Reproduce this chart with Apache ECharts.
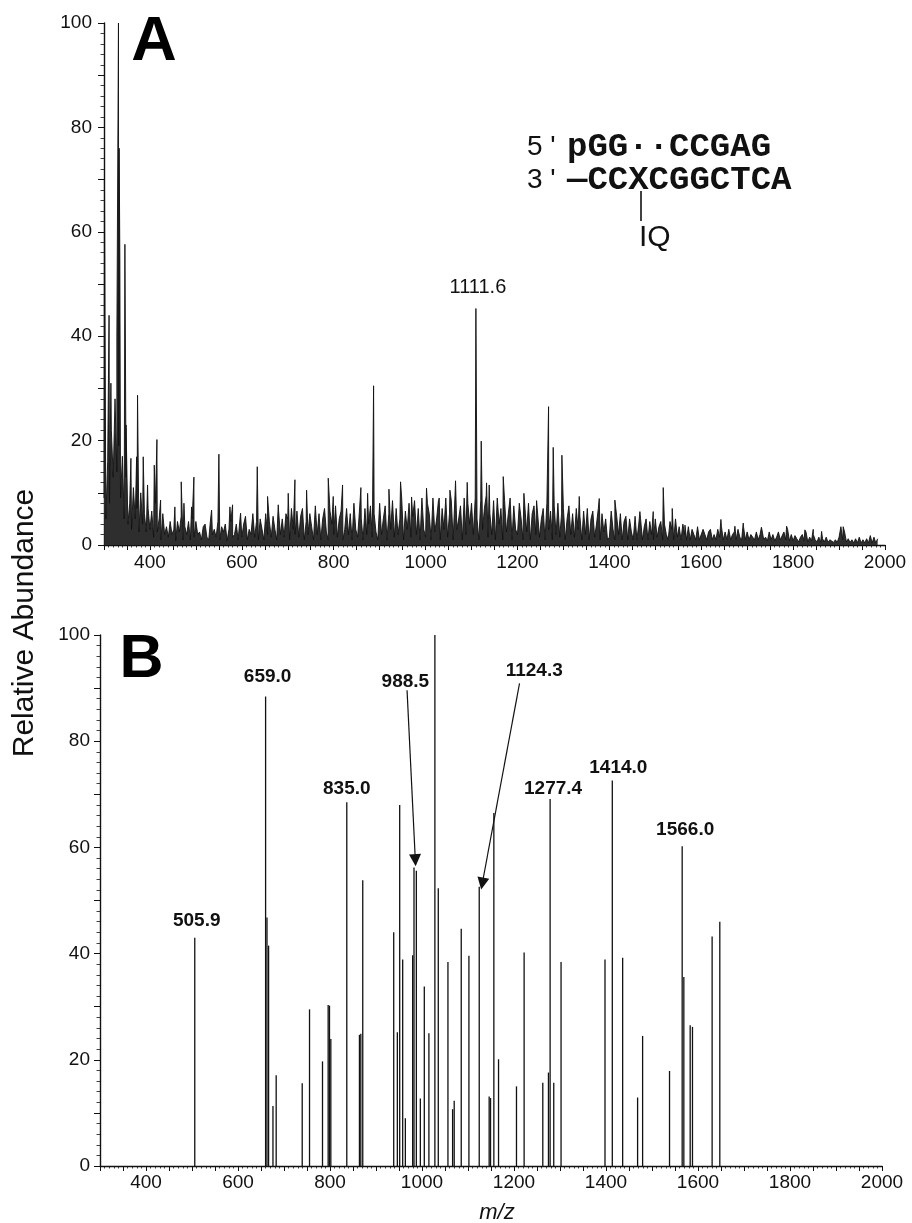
<!DOCTYPE html>
<html><head><meta charset="utf-8">
<script src="https://cdn.jsdelivr.net/npm/echarts@6/dist/echarts.min.js"></script>
<style>html,body{margin:0;padding:0;background:#fff}#c{width:912px;height:1223px}</style>
</head><body><div id="c"></div>
<script>
// ---------- Panel A: profile trace sampled every 4 m/z from 300 ----------
const A_start = 300, A_step = 4;
const A_trace = [
 9,5,16,8,22,13,28,14,19,9,17,5,13,4,8,3,11,5,7,2.5,10,4,6,2.5,7,
 3,6.5,1.5,8,2.5,5,1,6,2,3.5,1.5,4.5,2,3,0.8,4.5,2.5,5.5,1,3.5,2,4.5,1,5,1.5,
 4.5,2,2.5,1,3.5,4,1.5,1,5,2,3,1.5,4.5,1,3.5,2.5,4,0.8,3,4.5,1.5,2,4,1,5,
 1.5,4,5.5,1,3,2,6,1.5,4.5,1,5,3,1,6,2,4.5,1.5,5.5,3,1,6.5,2,5,1.5,6,
 5,1,7,3,2,6.5,1.5,5.5,7,1,4.5,2,6,3.5,1,7.5,2,6,1,5,7,2.5,1,6.5,4,
 2,7.5,1.5,5,6.5,1,3,7,2,6,1,8,3,1.5,6.5,5,1,7,2,4,7.5,1.5,6,2.5,1,
 8,2,5,7.5,1,6,3,8.5,1.5,7,2,5,9,1,6.5,3,8,1.5,5.5,8.5,2,7,1,9,3,
 1.5,8,6,1,9,2.5,5,8.5,1,7,3,9,1.5,6,8.5,1,9.5,3,5,7.5,1,9,2,8,4,
 8,2,9,5,1,8.5,3,7,9.5,1.5,6,2,8.5,1,9,4,7,1,8.5,2.5,6,9,1,7.5,3,
 2,8,5,1,7.5,2.5,8,1,6,7.5,2,8.5,1.5,5,7,1,8,3,6.5,1,7.5,2,8,1.5,6,
 7,1,5,7.5,2,6,1.5,7,3,5.5,1,6.5,2,7,1,5,6.5,1.5,4,7,1,6,2.5,5,1,
 1.5,6.5,3,1,5.5,2,6,1,4.5,5.5,1,5,2.5,1,5.5,1,4,5,1,3.5,5,1,4.5,2,1,
 5,1.5,3.5,4.5,1,4,2,1,4.5,3,1,5,1.5,3.5,1,4,2,1,3.5,1,3,2,1,3.5,1,
 1,3,2,1,2.5,3,1,2,1,3,1.5,3.5,1,2.5,1,3,1,2,2.5,1,3,1.5,1,3.5,1,
 2.5,1,2,1.5,1,2.5,1,2,3,1,1.5,0.8,2.5,1,2,0.8,1.5,2.5,1,0.8,2.5,1,3,0.8,2,
 0.8,1.8,1.2,0.6,1.5,2,0.8,2.5,0.6,1.5,0.8,2,1,0.6,1.5,0.5,1.2,0.6,1.5,0.5,1,1.2,0.5,1,0.5,
 1.5,3.5,1,2.5,0.6,1.2,0.5,1,0.4,1.2,0.4,1.5,0.4,1,0.4,1.2,0.4,1.8,0.4,1.5,0.4,1.2
];
// prominent spikes of panel A: [m/z, relative abundance]
const A_peaks = [
 [301,70],[311,44],[315,31],[328,40],[331.5,100],[333,76],[334.5,55],[345.5,57.6],[348,23],
 [358.6,16.6],[371,16.9],[373,28.7],[385.4,16.9],[394.8,11.5],[409.4,15.3],[415.2,20.2],
 [423.2,8.6],[454.3,7.3],[468.1,12.1],[474,8],[490.6,7.3],[495.7,13],[534.2,6.7],[550.1,17.4],
 [574.1,7.3],[579.9,7.7],[597.3,6.1],[633.6,15],[656,9.3],[679.3,7.7],[701,9.9],[715.6,12.5],
 [741,10.5],[788.1,12.8],[799,9.3],[819.3,11.5],[859.2,11],[873.8,9.9],[886.8,30.5],[920.2,10.7],
 [945.5,12.1],[969.5,9.2],[1002,10.9],[1029.7,9],[1053,10.5],[1065.2,12.3],[1090.6,12],
 [1109.5,45.3],[1121.1,19.9],[1132.7,11.9],[1138.5,11.5],[1169,13.1],[1187.2,9],[1214,9.9],
 [1241.6,8.5],[1267.7,26.5],[1277.8,18.7],[1296.7,17.2],[1334.5,9.3],[1378,8.9],[1412,8.6],
 [1466.5,6.4],[1495.5,6.4],[1517.3,11],[1536.9,7],[1564.6,3.8],[1642.8,4.9],[1673.3,3.6],
 [1691.4,4.2],[1731,3.4],[1785.8,3.6],[1825.6,2.9],[1843.8,3],[1862,2.6],[1909,3.5]
];
const A_labels = [[1109.5, 45.3, '1111.6']];

// ---------- Panel B: centroided peaks [m/z, relative abundance] ----------
const B_peaks = [
 [506,43],[660,88.4],[663,46.8],[666.5,41.5],[676,11.3],[683,17.1],[739.6,15.6],[755.5,29.5],
 [783.7,19.7],[796,30.3],[798.9,30.2],[801.8,23.9],[836.5,68.5],[864,24.7],[867,24.9],[871.2,53.8],
 [938.5,44],[946.4,25.2],[951.5,68],[958,38.9],[963.8,9],[979.7,39.7],[982.6,56.2],[987.7,55.6],
 [996.4,12.7],[1005,33.8],[1015,25],[1028,100],[1035.4,52.3],[1056.4,38.4],[1066.5,10.7],[1070,12.3],
 [1085.3,44.7],[1102,39.6],[1124.4,52.6],[1146,13.1],[1149,12.8],[1156.2,66.5],[1166.4,20.1],
 [1205.4,15],[1222,40.2],[1262.6,15.7],[1274.9,17.6],[1278.5,69.1],[1286.4,15.7],[1302.3,38.4],
 [1397.8,38.9],[1413.7,72.6],[1436.2,39.2],[1468.7,12.9],[1479.6,24.5],[1538.1,17.9],
 [1565.6,60.2],[1569.2,35.6],[1583,26.5],[1588,26.2],[1630.7,43.2],[1647.4,46]
];
const B_labels = [
 [506,43,'505.9'],[660,88.4,'659.0'],[836.5,68.5,'835.0'],[987.7,55.6,'988.5'],
 [1124.4,52.6,'1124.3'],[1278.5,69.1,'1277.4'],[1413.7,72.6,'1414.0'],[1565.6,60.2,'1566.0']
];
const xTickLabels = [400,600,800,1000,1200,1400,1600,1800,2000];
const yTickLabels = [0,20,40,60,80,100];

// label placement (style)
const B_labelOffsets = [[2,-16.5],[2,-20],[0,-13],[-11,-189],[55,-216],[3,-10],[6,-12.5],[3,-17]];

const FONT = 'Liberation Sans, Arial, sans-serif';
const aData = A_trace.map((v,i)=>[A_start + i*A_step, v]).concat(A_peaks).sort((p,q)=>p[0]-q[0]);

function xAxisCfg(grid){
  return {
    type:'value', gridIndex:grid, min:300, max:2000, interval:50,
    axisLine:{show:true, lineStyle:{color:'#111', width:1.4}},
    axisTick:{show:true, length:5, lineStyle:{color:'#111', width:1}},
    minorTick:{show:true, splitNumber:5, length:2.5, lineStyle:{color:'#111', width:0.8}},
    splitLine:{show:false}, minorSplitLine:{show:false},
    axisLabel:{fontFamily:FONT, fontSize:19, color:'#111', margin:grid===0?8:7,
      formatter:v=>xTickLabels.includes(v)?String(v):''}
  };
}
function yAxisCfg(grid){
  return {
    type:'value', gridIndex:grid, min:0, max:100, interval:10,
    axisLine:{show:true, lineStyle:{color:'#111', width:1.4}},
    axisTick:{show:true, length:6, lineStyle:{color:'#111', width:1}},
    minorTick:{show:true, splitNumber:5, length:3.5, lineStyle:{color:'#111', width:0.8}},
    splitLine:{show:false}, minorSplitLine:{show:false},
    axisLabel:{fontFamily:FONT, fontSize:19, color:'#111', margin:grid===0?12:10,
      formatter:v=>yTickLabels.includes(v)?String(v):''}
  };
}

const chart = echarts.init(document.getElementById('c'), null, {renderer:'canvas'});
chart.setOption({
  animation:false,
  backgroundColor:'#fff',
  grid:[
    {left:104, right:27, top:23, height:522},
    {left:100, right:30, top:635, height:531}
  ],
  xAxis:[xAxisCfg(0), xAxisCfg(1)],
  yAxis:[yAxisCfg(0), yAxisCfg(1)],
  series:[
    {type:'line', xAxisIndex:0, yAxisIndex:0, data:aData, showSymbol:false, symbol:'none',
     lineStyle:{color:'#111', width:0.9}, areaStyle:{color:'#2e2e2e', opacity:1}, silent:true, z:2},
    {type:'scatter', xAxisIndex:0, yAxisIndex:0, data:A_labels, symbolSize:1,
     itemStyle:{color:'transparent', opacity:1}, silent:true,
     label:{show:true, position:'inside', offset:[2,-21], formatter:p=>p.data[2],
       fontFamily:FONT, fontSize:20, color:'#111', textBorderWidth:0}},
    {type:'bar', xAxisIndex:1, yAxisIndex:1, data:B_peaks, barWidth:1.3,
     itemStyle:{color:'#111'}, silent:true},
    {type:'scatter', xAxisIndex:1, yAxisIndex:1, symbolSize:1, silent:true,
     itemStyle:{color:'transparent', opacity:1},
     data:B_labels.map((d,i)=>({value:d, label:{offset:B_labelOffsets[i]}})),
     label:{show:true, position:'inside', formatter:p=>p.data.value[2],
       fontFamily:FONT, fontSize:19, fontWeight:'bold', color:'#111', textBorderWidth:0},
     markLine:{silent:true, animation:false, symbol:['none','triangle'], symbolSize:12,
       lineStyle:{color:'#111', width:1.2, type:'solid', opacity:1}, label:{show:false},
       itemStyle:{color:'#111'},
       data:[
         [{coord:[967.5,89.6]},{coord:[985.5,57.6]}],
         [{coord:[1212,90.9]},{coord:[1131,53.2]}]
       ]}}
  ],
  graphic:[
    {type:'text', x:154, y:43, style:{text:'A', font:'bold 63px '+FONT, fill:'#000', align:'center', verticalAlign:'middle'}},
    {type:'text', x:141.5, y:660, style:{text:'B', font:'bold 61px '+FONT, fill:'#000', align:'center', verticalAlign:'middle'}},
    {type:'text', x:25, y:623, rotation:Math.PI/2, style:{text:'Relative Abundance', font:'30px '+FONT, fill:'#111', align:'center', verticalAlign:'middle'}},
    {type:'text', x:497, y:1213, style:{text:'m/z', font:'italic 22px '+FONT, fill:'#111', align:'center', verticalAlign:'middle'}},
    {type:'text', x:527, y:147, style:{text:"5 '", font:'28px '+FONT, fill:'#111', align:'left', verticalAlign:'middle'}},
    {type:'text', x:567, y:147, style:{text:'pGG\u00b7\u00b7CCGAG', font:'bold 34px Liberation Mono, Courier New, monospace', fill:'#111', align:'left', verticalAlign:'middle'}},
    {type:'text', x:527, y:180, style:{text:"3 '", font:'28px '+FONT, fill:'#111', align:'left', verticalAlign:'middle'}},
    {type:'text', x:567, y:180, style:{text:'\u2014CCXCGGCTCA', font:'bold 34px Liberation Mono, Courier New, monospace', fill:'#111', align:'left', verticalAlign:'middle'}},
    {type:'line', shape:{x1:641, y1:191, x2:641, y2:221}, style:{stroke:'#111', lineWidth:1.6}},
    {type:'text', x:639, y:238, style:{text:'IQ', font:'30px '+FONT, fill:'#111', align:'left', verticalAlign:'middle'}}
  ]
});
</script>
</body></html>
